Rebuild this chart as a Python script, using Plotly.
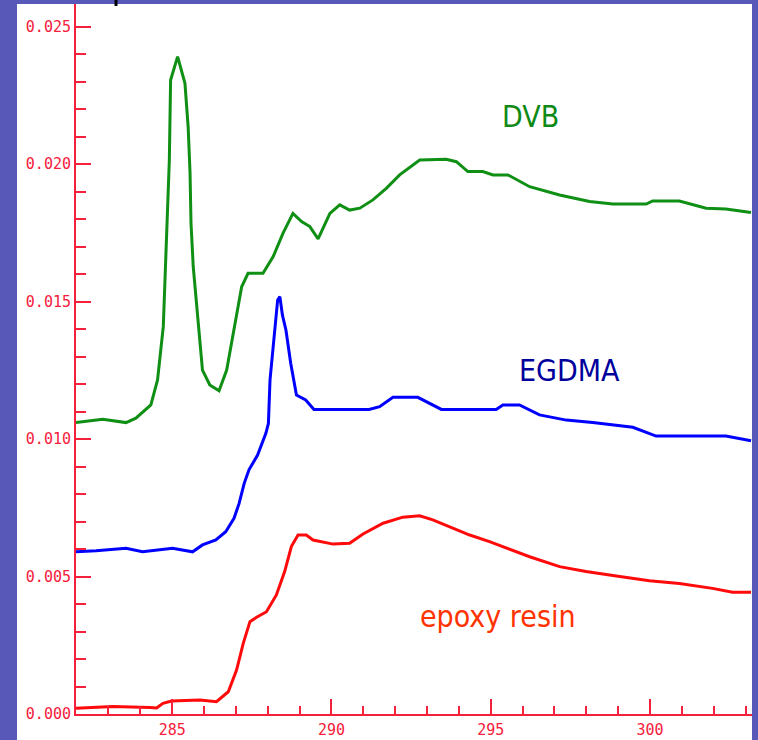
import plotly.graph_objects as go

# ---- data ----
dvb_x = [281.98, 282.82, 283.55, 283.86, 284.33, 284.54, 284.72, 284.82, 284.91, 284.95,
         285.17, 285.40, 285.50, 285.56, 285.59, 285.66, 285.82, 285.95, 286.18, 286.47,
         286.71, 286.97, 287.18, 287.38, 287.85, 288.17, 288.48, 288.79, 289.06, 289.32,
         289.58, 289.95, 290.26, 290.57, 290.89, 291.30, 291.72, 292.14, 292.77, 293.60,
         293.92, 294.28, 294.75, 295.07, 295.54, 296.22, 297.16, 298.10, 298.83, 299.88,
         300.08, 300.92, 301.76, 302.38, 303.17]
dvb_y = [10.60, 10.72, 10.60, 10.76, 11.24, 12.15, 14.09, 17.24, 20.15, 23.06,
         23.91, 22.94, 21.36, 19.68, 17.86, 16.27, 14.22, 12.51, 11.97, 11.76,
         12.51, 14.22, 15.54, 16.03, 16.03, 16.64, 17.49, 18.21, 17.91, 17.73,
         17.28, 18.21, 18.52, 18.33, 18.40, 18.70, 19.12, 19.61, 20.15, 20.18,
         20.09, 19.73, 19.73, 19.61, 19.61, 19.18, 18.88, 18.64, 18.55, 18.55,
         18.66, 18.66, 18.40, 18.37, 18.24]

egdma_x = [281.98, 282.61, 283.55, 284.07, 285.01, 285.64, 285.95, 286.37, 286.68, 286.94,
           287.10, 287.26, 287.41, 287.68, 287.94, 288.02, 288.07, 288.20, 288.31, 288.38,
           288.46, 288.57, 288.72, 288.90, 289.19, 289.45, 291.18, 291.51, 291.93, 292.71,
           293.45, 295.17, 295.38, 295.90, 296.53, 297.37, 298.20, 299.46, 300.19, 302.38,
           303.17]
egdma_y = [5.90, 5.94, 6.03, 5.90, 6.03, 5.90, 6.15, 6.33, 6.63, 7.12,
           7.66, 8.39, 8.88, 9.42, 10.21, 10.57, 12.15, 13.73, 15.06, 15.18,
           14.51, 13.97, 12.76, 11.60, 11.42, 11.08, 11.08, 11.18, 11.52, 11.52,
           11.08, 11.08, 11.24, 11.24, 10.88, 10.69, 10.60, 10.43, 10.11, 10.11,
           9.94]

epoxy_x = [281.98, 283.14, 284.30, 284.51, 284.71, 284.98, 285.87, 286.39, 286.76, 287.02,
           287.23, 287.44, 287.65, 287.96, 288.27, 288.53, 288.74, 288.95, 289.21, 289.42,
           290.05, 290.57, 290.99, 291.62, 292.24, 292.77, 293.18, 293.71, 294.34, 294.96,
           295.59, 296.22, 297.16, 297.99, 298.94, 299.98, 300.92, 301.96, 302.59, 303.17]
epoxy_y = [0.21, 0.27, 0.24, 0.22, 0.39, 0.47, 0.51, 0.45, 0.81, 1.60,
           2.57, 3.36, 3.52, 3.72, 4.33, 5.18, 6.09, 6.51, 6.51, 6.33,
           6.18, 6.21, 6.55, 6.94, 7.16, 7.21, 7.06, 6.81, 6.51, 6.27,
           5.99, 5.72, 5.36, 5.18, 5.02, 4.85, 4.75, 4.57, 4.43, 4.43]

x_ticks = [285, 290, 295, 300]
y_ticks = [0.000, 0.005, 0.010, 0.015, 0.020, 0.025]
series_names = ["DVB", "EGDMA", "epoxy resin"]

SCALE = 1e-3  # y values above are in units of 1e-3

AX = "#f5203c"
BG = "#5858b8"
fig = go.Figure()
fig.add_trace(go.Scatter(x=dvb_x, y=[v * SCALE for v in dvb_y], mode="lines",
                         line=dict(color="#0f8f14", width=3), name=series_names[0]))
fig.add_trace(go.Scatter(x=egdma_x, y=[v * SCALE for v in egdma_y], mode="lines",
                         line=dict(color="#0000ff", width=3), name=series_names[1]))
fig.add_trace(go.Scatter(x=epoxy_x, y=[v * SCALE for v in epoxy_y], mode="lines",
                         line=dict(color="#ff0a0a", width=3), name=series_names[2]))

lab_font = "DejaVu Sans Condensed, DejaVu Sans, sans-serif"
fig.add_annotation(x=296.24, y=0.02172, text=series_names[0], showarrow=False,
                   font=dict(family=lab_font, size=30, color="#0f8a14"))
fig.add_annotation(x=297.47, y=0.01251, text=series_names[1], showarrow=False,
                   font=dict(family=lab_font, size=30, color="#00009c"))
fig.add_annotation(x=295.24, y=0.00353, text=series_names[2], showarrow=False,
                   font=dict(family=lab_font, size=30, color="#ff3300"))

tickfont = dict(family="DejaVu Sans Mono, monospace", size=15, color=AX)
fig.update_xaxes(range=[281.98, 303.2], tickvals=x_ticks, ticktext=[str(v) for v in x_ticks],
                 ticks="inside", ticklen=15, tickwidth=2, tickcolor=AX, automargin=False,
                 showline=True, linecolor=AX, linewidth=2, showgrid=False, zeroline=False,
                 tickfont=tickfont, ticklabelstandoff=1,
                 minor=dict(dtick=1, tick0=285, ticks="inside", ticklen=8, tickwidth=2,
                            tickcolor=AX, showgrid=False))
fig.update_yaxes(range=[0, 0.025826], tickvals=y_ticks, tickformat=".3f",
                 ticks="inside", ticklen=15, tickwidth=2, tickcolor=AX, automargin=False,
                 showline=True, linecolor=AX, linewidth=2, showgrid=False, zeroline=False,
                 tickfont=tickfont,
                 minor=dict(dtick=0.001, tick0=0, ticks="inside", ticklen=10, tickwidth=2,
                            tickcolor=AX, showgrid=False))

W, H = 758, 740
ml, mr, mt, mb = 76, 6, 4, 26
pw, ph = W - ml - mr, H - mt - mb
# white slide panel behind the plot
fig.add_shape(type="rect", xref="paper", yref="paper",
              x0=(17 - ml) / pw, x1=1, y0=-(mb + 2) / ph, y1=1,
              fillcolor="white", line=dict(width=0), layer="below")
# little black mark at top
fig.add_shape(type="line", xref="paper", yref="paper",
              x0=(116 - ml) / pw, x1=(116 - ml) / pw, y0=1 - 2 / ph, y1=1 + 5 / ph,
              line=dict(color="black", width=3))

fig.update_layout(width=W, height=H, margin=dict(l=ml, r=mr, t=mt, b=mb, autoexpand=False),
                  paper_bgcolor=BG, plot_bgcolor="white", showlegend=False)
fig.write_html("out.html", config={"displayModeBar": False},
               post_script="document.body.style.margin='0';document.body.style.padding='0';"
                           "document.body.style.background='%s';"
                           "document.body.style.overflow='hidden';" % BG)
